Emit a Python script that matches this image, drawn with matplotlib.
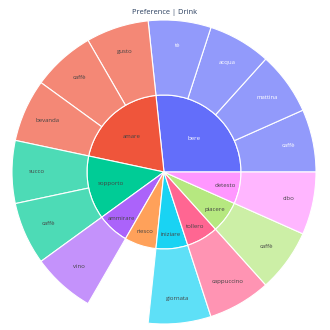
import numpy as np
import matplotlib
matplotlib.use('Agg')
import matplotlib.pyplot as plt
from matplotlib.patches import Wedge
from matplotlib.colors import to_rgb

# inner ring, counterclockwise from 3 o'clock
verbs = ['bere', 'amare', 'sopporto', 'ammirare', 'riesco', 'iniziare', 'tollero', 'piacere', 'detesto']
verb_colors = ['#636EFA', '#EF553B', '#00CC96', '#AB63FA', '#FFA15A', '#19D3F3', '#FF6692', '#B6E880', '#FF97FF']
verb_values = [4, 3, 2, 1, 1, 1, 1, 1, 1]

# outer ring
objects = ['caffè', 'mattina', 'acqua', 'tè', 'gusto', 'caffè', 'bevanda', 'succo', 'caffè',
           'vino', 'giornata', 'cappuccino', 'caffè', 'cibo']
object_parents = ['bere', 'bere', 'bere', 'bere', 'amare', 'amare', 'amare', 'sopporto', 'sopporto',
                  'ammirare', 'iniziare', 'tollero', 'piacere', 'detesto']
object_values = [1, 1, 1, 1, 1, 1, 1, 1, 1, 1, 1, 1, 1, 1]

W = H = 330
CX, CY = 164, 330 - 172
R1, R2 = 77, 152
FONT = ['Open Sans', 'DejaVu Sans']


def lighten(c, a=0.7):
    r = np.array(to_rgb(c))
    return tuple(r * a + (1 - a))


def text_color(c):
    r, g, b = to_rgb(c)
    lum = 0.299 * r + 0.587 * g + 0.114 * b
    return 'white' if lum < 0.49 else '#444444'


fig = plt.figure(figsize=(3.3, 3.3), dpi=100)
ax = fig.add_axes([0, 0, 1, 1])
ax.set_xlim(0, W)
ax.set_ylim(0, H)
ax.set_aspect('equal')
ax.axis('off')

total = sum(verb_values)
deg = 360.0 / total
in_r = {1: 63, 2: 54, 3: 48, 4: 44.5}

start = 0.0
starts = {}
for name, col, v in zip(verbs, verb_colors, verb_values):
    t1, t2 = start, start + v * deg
    starts[name] = [t1, col]
    ax.add_patch(Wedge((CX, CY), R1, t1, t2, facecolor=col, edgecolor='white', linewidth=0.8))
    mid = np.radians((t1 + t2) / 2)
    r = in_r[v]
    ax.text(CX + r * np.cos(mid), CY + r * np.sin(mid), name, ha='center', va='center',
            fontsize=4.3, color=text_color(col), family=FONT)
    start = t2

for name, par, v in zip(objects, object_parents, object_values):
    t1, col = starts[par]
    t2 = t1 + v * deg
    starts[par][0] = t2
    fc = lighten(col)
    ax.add_patch(Wedge((CX, CY), R2, t1, t2, width=R2 - R1, facecolor=fc,
                       edgecolor='white', linewidth=0.8))
    mid = np.radians((t1 + t2) / 2)
    ax.text(CX + 127 * np.cos(mid), CY + 127 * np.sin(mid), name, ha='center', va='center',
            fontsize=4.3, color=text_color(col), family=FONT)

ax.text(165, H - 12, 'Preference | Drink', ha='center', va='center', fontsize=5.4,
        color='#2a3f5f', family=FONT)

fig.savefig('out.png', dpi=100)
